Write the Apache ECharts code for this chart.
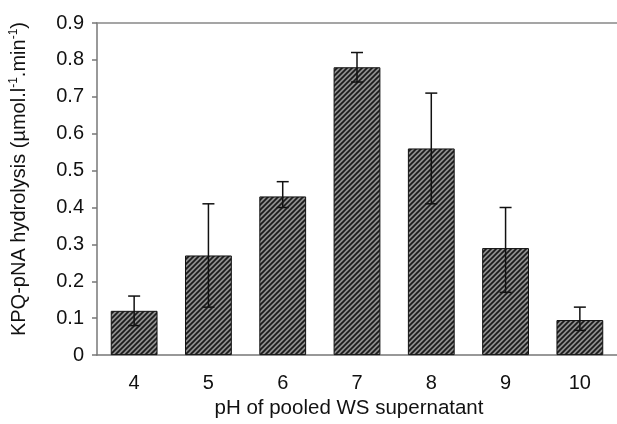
<!DOCTYPE html>
<html>
<head>
<meta charset="utf-8">
<script src="https://cdn.jsdelivr.net/npm/echarts@6/dist/echarts.min.js"></script>
<style>
  html, body { margin: 0; padding: 0; background: #fff; }
  #chart { width: 617px; height: 424px; }
</style>
</head>
<body>
<div id="chart"></div>
<script>
// pH values and mean activity with error bar limits
var categories = ['4', '5', '6', '7', '8', '9', '10'];
var means = [0.12, 0.27, 0.43, 0.78, 0.56, 0.29, 0.095];
var errLow = [0.08, 0.13, 0.40, 0.74, 0.41, 0.17, 0.067];
var errHigh = [0.16, 0.41, 0.47, 0.82, 0.71, 0.40, 0.13];

// hatch pattern: dark diagonal stripes on grey
function makeHatch() {
    var c = document.createElement('canvas');
    var s = 5;
    c.width = s; c.height = s;
    var ctx = c.getContext('2d');
    ctx.fillStyle = '#8e8e8e';
    ctx.fillRect(0, 0, s, s);
    ctx.strokeStyle = '#1a1a1a';
    ctx.lineWidth = 1.7;
    ctx.beginPath();
    ctx.moveTo(-1, s + 1); ctx.lineTo(s + 1, -1);
    ctx.moveTo(-1, 1); ctx.lineTo(1, -1);
    ctx.moveTo(s - 1, s + 1); ctx.lineTo(s + 1, s - 1);
    ctx.stroke();
    return c;
}

var errData = categories.map(function (c, i) { return [i, errLow[i], errHigh[i]]; });

var mychart = echarts.init(document.getElementById('chart'));
var option = {
    animation: false,
    textStyle: { fontFamily: 'Liberation Sans, Arial, sans-serif' },
    grid: { left: 97, right: -2, top: 23, bottom: 67 },
    xAxis: [{
        type: 'category',
        data: categories,
        name: 'pH of pooled WS supernatant',
        nameLocation: 'middle',
        nameGap: 41,
        nameTextStyle: { fontSize: 20.5, color: '#111', padding: [0, 16, 0, 0] },
        axisLine: { lineStyle: { color: '#777', width: 1.5 } },
        axisTick: { length: 5, lineStyle: { color: '#777', width: 1.5 } },
        axisLabel: { fontSize: 20, color: '#111', margin: 18 }
    }, {
        type: 'category',
        data: categories,
        position: 'top',
        axisLine: { show: true, lineStyle: { color: '#888', width: 1.5 } },
        axisTick: { show: false },
        axisLabel: { show: false }
    }],
    yAxis: {
        type: 'value',
        min: 0, max: 0.9, interval: 0.1,
        name: '{n|KPQ-pNA hydrolysis (µmol.l}{s|-1}{n|.min}{s|-1}{n|)}',
        nameLocation: 'middle',
        nameRotate: 90,
        nameGap: 67,
        nameTextStyle: {
            padding: [0, 0, 0, 20],
            rich: {
                n: { fontSize: 20, color: '#111', fontFamily: 'Liberation Sans' },
                s: { fontSize: 12, color: '#111', fontFamily: 'Liberation Sans', padding: [0, 0, 10, 0] }
            }
        },
        splitLine: { show: false },
        axisLine: { show: true, lineStyle: { color: '#777', width: 1.5 } },
        axisTick: { show: true, length: 5, lineStyle: { color: '#777', width: 1.5 } },
        axisLabel: {
            fontSize: 20, color: '#111', margin: 13,
            formatter: function (v) { return v === 0 ? '0' : v.toFixed(1); }
        }
    },
    series: [{
        type: 'bar',
        data: means,
        barWidth: '63%',
        itemStyle: {
            color: { image: makeHatch(), repeat: 'repeat' },
            borderColor: '#111',
            borderWidth: 1
        }
    }, {
        type: 'custom',
        data: errData,
        z: 10,
        renderItem: function (params, api) {
            var x = api.value(0);
            var lo = api.coord([x, api.value(1)]);
            var hi = api.coord([x, api.value(2)]);
            var w = 6;
            var st = { stroke: '#111', lineWidth: 1.5 };
            return {
                type: 'group',
                children: [
                    { type: 'line', shape: { x1: hi[0], y1: hi[1], x2: lo[0], y2: lo[1] }, style: st },
                    { type: 'line', shape: { x1: hi[0] - w, y1: hi[1], x2: hi[0] + w, y2: hi[1] }, style: st },
                    { type: 'line', shape: { x1: lo[0] - w, y1: lo[1], x2: lo[0] + w, y2: lo[1] }, style: st }
                ]
            };
        }
    }]
};
mychart.setOption(option);
</script>
</body>
</html>
